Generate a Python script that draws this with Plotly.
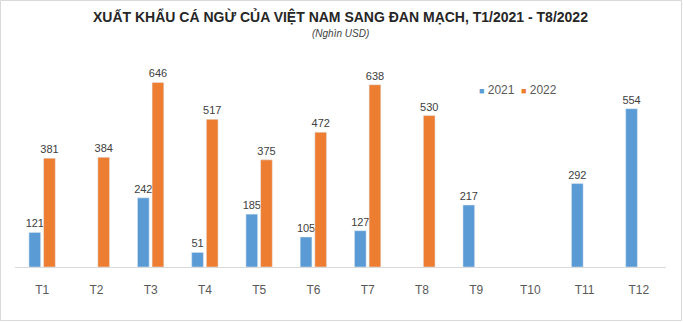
import plotly.graph_objects as go

months = ["T1", "T2", "T3", "T4", "T5", "T6", "T7", "T8", "T9", "T10", "T11", "T12"]
exports_2021 = [121, None, 242, 51, 185, 105, 127, None, 217, None, 292, 554]
exports_2022 = [381, 384, 646, 517, 375, 472, 638, 530, None, None, None, None]
series_names = ["2021", "2022"]
series_colors = ["#5B9BD5", "#ED7D31"]

W, H = 683, 322
ML, MR, MT, MB = 15, 17, 67, 55

fig = go.Figure()
for name, values, color in zip(series_names, [exports_2021, exports_2022], series_colors):
    fig.add_trace(go.Bar(
        name=name, x=months, y=values, marker_color=color,
        text=values, textposition="outside", cliponaxis=False,
        constraintext="none", showlegend=False,
        textfont=dict(size=11, color="#404040"),
    ))

pw = W - ML - MR
ph = H - MT - MB


def px_x(x):
    return (x - ML) / pw


def px_y(y):
    return (H - MB - y) / ph


# compact legend: small coloured square followed by the series name
legend_notes = []
for name, color, xpos in zip(series_names, series_colors, [477, 519]):
    legend_notes.append(dict(
        text=f'<span style="color:{color}; font-size:9px">■</span> {name}',
        xref="paper", yref="paper", x=px_x(xpos), y=px_y(90),
        xanchor="left", yanchor="middle", showarrow=False,
        font=dict(size=12, color="#595959")))

fig.update_layout(
    width=W, height=H,
    margin=dict(l=ML, r=MR, t=MT, b=MB),
    paper_bgcolor="white", plot_bgcolor="white",
    font=dict(family="Liberation Sans, Arial, sans-serif", color="#595959"),
    barmode="group", bargap=0.46, bargroupgap=0.2,
    showlegend=False,
    xaxis=dict(showgrid=False, showline=True, linecolor="#D9D9D9", linewidth=1,
               ticks="", ticklabelstandoff=12,
               tickfont=dict(size=12, color="#595959")),
    yaxis=dict(range=[0, 700], visible=False, showgrid=False),
    annotations=[
        dict(text="<b>XUẤT KHẨU CÁ NGỪ CỦA VIỆT NAM SANG ĐAN MẠCH, T1/2021 - T8/2022</b>",
             xref="paper", yref="paper", x=px_x(340), y=px_y(16),
             xanchor="center", yanchor="middle", showarrow=False,
             font=dict(size=14, color="#262626")),
        dict(text="<i>(Nghìn USD)</i>",
             xref="paper", yref="paper", x=px_x(340), y=px_y(34),
             xanchor="center", yanchor="middle", showarrow=False,
             font=dict(size=10, color="#404040")),
    ] + legend_notes,
    shapes=[
        dict(type="rect", xref="paper", yref="paper",
             x0=px_x(0.5), x1=px_x(W - 1.5),
             y0=px_y(H - 1.5), y1=px_y(0.5),
             line=dict(color="#D9D9D9", width=1), fillcolor="rgba(0,0,0,0)"),
    ],
)

fig.write_html("out.html")
